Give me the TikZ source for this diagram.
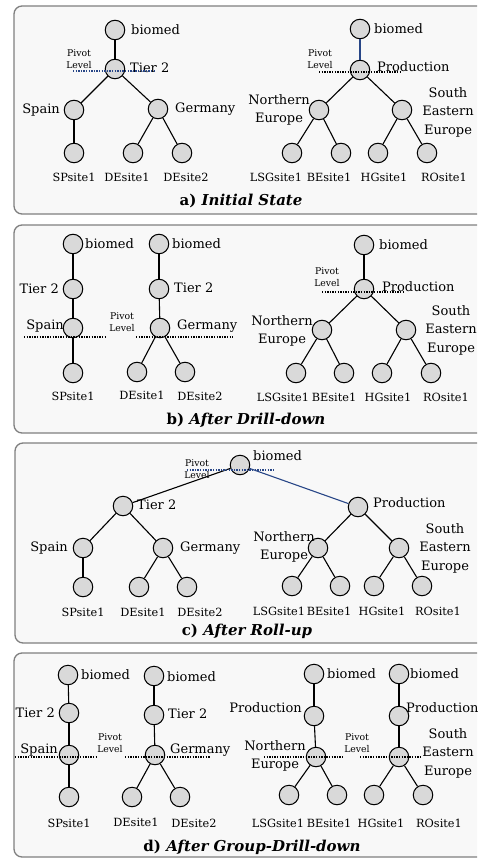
\documentclass[tikz,border=0pt]{standalone}
\usepackage{fontspec}
\setmainfont{DejaVu Serif}
\definecolor{panelbg}{RGB}{248,248,248}
\definecolor{panelbd}{RGB}{128,128,128}
\definecolor{nodefill}{RGB}{217,217,217}
\definecolor{pivblue}{RGB}{40,70,135}
\tikzset{
  nd/.style={circle,draw=black,line width=1pt,fill=nodefill,minimum size=19.5pt,inner sep=0pt},
  lab/.style={inner sep=0pt,font=\fontsize{13}{18.5}\selectfont},
  sitelab/.style={inner sep=0pt,font=\fontsize{11.3}{13}\selectfont},
  piv/.style={inner sep=0pt,align=center,font=\fontsize{9.3}{12.5}\selectfont},
  captxt/.style={inner sep=0pt,font=\fontsize{15}{17}\selectfont\bfseries},
  panel/.style={draw=panelbd,line width=1.3pt,fill=panelbg,rounded corners=8pt},
  edge/.style={line width=1.1pt,black},
  bedge/.style={line width=1.1pt,pivblue},
  pivline/.style={line width=1.1pt,dash pattern=on 1.3pt off 1.3pt},
}
\begin{document}
\begin{tikzpicture}[x=1pt,y=-1pt]
\useasboundingbox (0,0) rectangle (477,859);
\clip (0,0) rectangle (477,859);
\fill[white] (0,0) rectangle (477,859);
% ---------------- panels
\draw[panel] (14,6) rectangle (500,214);
\draw[panel] (14,225) rectangle (500,433);
\draw[panel] (15,443) rectangle (500,643);
\draw[panel] (14,653) rectangle (500,857);

% ================= a) Initial State
\node[nd] (aB) at (115,30) {};
\node[nd] (aT) at (115,69) {};
\node[nd] (aS) at (74,110) {};
\node[nd] (aG) at (158,109) {};
\node[nd] (aSP) at (74,153) {};
\node[nd] (aD1) at (133,153) {};
\node[nd] (aD2) at (182,153) {};
\draw[edge] (aB) -- (aT);
\draw[edge] (aT) -- (aS);
\draw[edge] (aT) -- (aG);
\draw[edge] (aS) -- (aSP);
\draw[edge] (aG) -- (aD1);
\draw[edge] (aG) -- (aD2);
\node[lab,anchor=west] (aBl) at (131,30) {biomed};
\node[lab,anchor=west] (aTl) at (130,68) {Tier 2};
\node[lab,anchor=east] (aSl) at (60,110) {Spain};
\node[lab,anchor=west] (aGl) at (175,109) {Germany};
\node[sitelab] (aSPl) at (74,177) {SPsite1};
\node[sitelab] (aD1l) at (127,177) {DEsite1};
\node[sitelab] (aD2l) at (186,177) {DEsite2};
\node[piv] (aPv1) at (79,59) {Pivot\\Level};
\coordinate (aL1) at (73,71);
\coordinate (aL2) at (155,71);
\draw[pivline,pivblue] (aL1) -- (aL2);

\node[nd] (aB2) at (360,29) {};
\node[nd] (aP) at (360,70) {};
\node[nd] (aN) at (319,110) {};
\node[nd] (aSE) at (402,110) {};
\node[nd] (aL) at (292,153) {};
\node[nd] (aBE) at (341,153) {};
\node[nd] (aH) at (378,153) {};
\node[nd] (aR) at (427,153) {};
\draw[bedge] (aB2) -- (aP);
\draw[edge] (aP) -- (aN);
\draw[edge] (aP) -- (aSE);
\draw[edge] (aN) -- (aL);
\draw[edge] (aN) -- (aBE);
\draw[edge] (aSE) -- (aH);
\draw[edge] (aSE) -- (aR);
\node[lab,anchor=west] (aB2l) at (374,29) {biomed};
\node[lab,anchor=west] (aPl) at (377,67) {Production};
\node[lab,align=center] (aNl) at (279,110) {Northern\\Europe};
\node[lab,align=center] (aSEl) at (448,112) {South\\Eastern\\Europe};
\node[sitelab] (aLl) at (276,177) {LSGsite1};
\node[sitelab] (aBEl) at (329,177) {BEsite1};
\node[sitelab] (aHl) at (384,177) {HGsite1};
\node[sitelab] (aRl) at (444,177) {ROsite1};
\node[piv] (aPv2) at (320,59) {Pivot\\Level};
\coordinate (aL3) at (319,72);
\coordinate (aL4) at (400,72);
\draw[pivline] (aL3) -- (aL4);
\node[captxt] (aCap) at (241,201) {a) \itshape Initial State};

% ================= b) After Drill-down
\node[nd] (bB1) at (73,244) {};
\node[nd] (bT1) at (73,289) {};
\node[nd] (bS) at (73,328) {};
\node[nd] (bSP) at (73,373) {};
\draw[edge] (bB1) -- (bT1);
\draw[edge] (bT1) -- (bS);
\draw[edge] (bS) -- (bSP);
\node[lab,anchor=west] (bB1l) at (85,244) {biomed};
\node[lab,anchor=east] (bT1l) at (59,289) {Tier 2};
\node[lab,anchor=east] (bSl) at (64,326) {Spain};
\node[sitelab] (bSPl) at (73,396) {SPsite1};

\node[nd] (bB2) at (159,244) {};
\node[nd] (bT2) at (159,289) {};
\node[nd] (bG) at (160,328) {};
\node[nd] (bD1) at (137,372) {};
\node[nd] (bD2) at (185,372) {};
\draw[edge] (bB2) -- (bT2);
\draw[edge] (bT2) -- (bG);
\draw[edge] (bG) -- (bD1);
\draw[edge] (bG) -- (bD2);
\node[lab,anchor=west] (bB2l) at (172,244) {biomed};
\node[lab,anchor=west] (bT2l) at (174,288) {Tier 2};
\node[lab,anchor=west] (bGl) at (177,326) {Germany};
\node[sitelab] (bD1l) at (142,395) {DEsite1};
\node[sitelab] (bD2l) at (200,396) {DEsite2};
\node[piv] (bPv1) at (122,322) {Pivot\\Level};
\coordinate (bL1) at (24,337);
\coordinate (bL2) at (107,337);
\coordinate (bL3) at (136,337);
\coordinate (bL4) at (233,337);
\draw[pivline] (bL1) -- (bL2);
\draw[pivline] (bL3) -- (bL4);

\node[nd] (bB3) at (364,245) {};
\node[nd] (bP) at (364,289) {};
\node[nd] (bN) at (322,330) {};
\node[nd] (bSE) at (406,330) {};
\node[nd] (bL) at (296,373) {};
\node[nd] (bBE) at (344,373) {};
\node[nd] (bH) at (382,373) {};
\node[nd] (bR) at (431,373) {};
\draw[edge] (bB3) -- (bP);
\draw[edge] (bP) -- (bN);
\draw[edge] (bP) -- (bSE);
\draw[edge] (bN) -- (bL);
\draw[edge] (bN) -- (bBE);
\draw[edge] (bSE) -- (bH);
\draw[edge] (bSE) -- (bR);
\node[lab,anchor=west] (bB3l) at (379,245) {biomed};
\node[lab,anchor=west] (bPl) at (382,287) {Production};
\node[lab,align=center] (bNl) at (282,331) {Northern\\Europe};
\node[lab,align=center] (bSEl) at (451,330) {South\\Eastern\\Europe};
\node[sitelab] (bLl) at (283,397) {LSGsite1};
\node[sitelab] (bBEl) at (334,397) {BEsite1};
\node[sitelab] (bHl) at (388,397) {HGsite1};
\node[sitelab] (bRl) at (446,397) {ROsite1};
\node[piv] (bPv2) at (327,277) {Pivot\\Level};
\coordinate (bL5) at (322,292);
\coordinate (bL6) at (404,292);
\draw[pivline] (bL5) -- (bL6);
\node[captxt] (bCap) at (246,420) {b) \itshape After Drill-down};

% ================= c) After Roll-up
\node[nd] (cB) at (240,465) {};
\node[nd] (cT) at (123,506) {};
\node[nd] (cS) at (83,548) {};
\node[nd] (cG) at (163,548) {};
\node[nd] (cSP) at (83,587) {};
\node[nd] (cD1) at (139,587) {};
\node[nd] (cD2) at (187,587) {};
\node[nd] (cP) at (358,507) {};
\node[nd] (cN) at (318,548) {};
\node[nd] (cSE) at (399,548) {};
\node[nd] (cL) at (292,586) {};
\node[nd] (cBE) at (340,586) {};
\node[nd] (cH) at (374,586) {};
\node[nd] (cR) at (422,586) {};
\draw[edge] (cB) -- (cT);
\draw[bedge] (cB) -- (cP);
\draw[edge] (cT) -- (cS);
\draw[edge] (cT) -- (cG);
\draw[edge] (cS) -- (cSP);
\draw[edge] (cG) -- (cD1);
\draw[edge] (cG) -- (cD2);
\draw[edge] (cP) -- (cN);
\draw[edge] (cP) -- (cSE);
\draw[edge] (cN) -- (cL);
\draw[edge] (cN) -- (cBE);
\draw[edge] (cSE) -- (cH);
\draw[edge] (cSE) -- (cR);
\node[lab,anchor=west] (cBl) at (253,456) {biomed};
\node[lab,anchor=west] (cTl) at (137,505) {Tier 2};
\node[lab,anchor=east] (cSl) at (68,548) {Spain};
\node[lab,anchor=west] (cGl) at (180,548) {Germany};
\node[sitelab] (cSPl) at (83,612) {SPsite1};
\node[sitelab] (cD1l) at (143,612) {DEsite1};
\node[sitelab] (cD2l) at (200,612) {DEsite2};
\node[lab,anchor=west] (cPl) at (373,503) {Production};
\node[lab,align=center] (cNl) at (284,547) {Northern\\Europe};
\node[lab,align=center] (cSEl) at (445,548) {South\\Eastern\\Europe};
\node[sitelab] (cLl) at (279,611) {LSGsite1};
\node[sitelab] (cBEl) at (329,611) {BEsite1};
\node[sitelab] (cHl) at (382,611) {HGsite1};
\node[sitelab] (cRl) at (438,611) {ROsite1};
\node[piv] (cPv) at (197,469) {Pivot\\Level};
\coordinate (cL1) at (187,470);
\coordinate (cL2) at (275,470);
\draw[pivline,pivblue] (cL1) -- (cL2);
\node[captxt] (cCap) at (247,631) {c) \itshape After Roll-up};

% ================= d) After Group-Drill-down
\node[nd] (dB1) at (68,675) {};
\node[nd] (dT1) at (69,713) {};
\node[nd] (dS) at (69,755) {};
\node[nd] (dSP) at (69,797) {};
\draw[edge] (dB1) -- (dT1);
\draw[edge] (dT1) -- (dS);
\draw[edge] (dS) -- (dSP);
\node[lab,anchor=west] (dB1l) at (81,675) {biomed};
\node[lab,anchor=east] (dT1l) at (55,713) {Tier 2};
\node[lab,anchor=east] (dSl) at (58,750) {Spain};
\node[sitelab] (dSPl) at (69,823) {SPsite1};

\node[nd] (dB2) at (154,676) {};
\node[nd] (dT2) at (154,715) {};
\node[nd] (dG) at (155,755) {};
\node[nd] (dD1) at (132,797) {};
\node[nd] (dD2) at (180,797) {};
\draw[edge] (dB2) -- (dT2);
\draw[edge] (dT2) -- (dG);
\draw[edge] (dG) -- (dD1);
\draw[edge] (dG) -- (dD2);
\node[lab,anchor=west] (dB2l) at (167,677) {biomed};
\node[lab,anchor=west] (dT2l) at (168,714) {Tier 2};
\node[lab,anchor=west] (dGl) at (170,750) {Germany};
\node[sitelab] (dD1l) at (136,822) {DEsite1};
\node[sitelab] (dD2l) at (194,823) {DEsite2};
\node[piv] (dPv1) at (110,743) {Pivot\\Level};
\coordinate (dL1) at (15,757);
\coordinate (dL2) at (98,757);
\coordinate (dL3) at (125,757);
\coordinate (dL4) at (210,757);
\draw[pivline] (dL1) -- (dL2);
\draw[pivline] (dL3) -- (dL4);

\node[nd] (dB3) at (314,674) {};
\node[nd] (dP3) at (314,716) {};
\node[nd] (dN) at (316,757) {};
\node[nd] (dL) at (289,795) {};
\node[nd] (dBE) at (337,795) {};
\draw[edge] (dB3) -- (dP3);
\draw[edge] (dP3) -- (dN);
\draw[edge] (dN) -- (dL);
\draw[edge] (dN) -- (dBE);
\node[lab,anchor=west] (dB3l) at (327,674) {biomed};
\node[lab,anchor=east] (dP3l) at (302,708) {Production};
\node[lab,align=center] (dNl) at (275,756) {Northern\\Europe};
\node[sitelab] (dLl) at (278,823) {LSGsite1};
\node[sitelab] (dBEl) at (329,823) {BEsite1};

\node[nd] (dB4) at (399,674) {};
\node[nd] (dP4) at (399,716) {};
\node[nd] (dSE) at (399,757) {};
\node[nd] (dH) at (374,795) {};
\node[nd] (dR) at (423,795) {};
\draw[edge] (dB4) -- (dP4);
\draw[edge] (dP4) -- (dSE);
\draw[edge] (dSE) -- (dH);
\draw[edge] (dSE) -- (dR);
\node[lab,anchor=west] (dB4l) at (410,674) {biomed};
\node[lab,anchor=west] (dP4l) at (406,708) {Production};
\node[lab,align=center] (dSEl) at (448,753) {South\\Eastern\\Europe};
\node[sitelab] (dHl) at (381,823) {HGsite1};
\node[sitelab] (dRl) at (439,823) {ROsite1};
\node[piv] (dPv2) at (357,743) {Pivot\\Level};
\coordinate (dL5) at (264,757);
\coordinate (dL6) at (344,757);
\coordinate (dL7) at (360,757);
\coordinate (dL8) at (422,757);
\draw[pivline] (dL5) -- (dL6);
\draw[pivline] (dL7) -- (dL8);
\node[captxt] (dCap) at (252,847) {d) \itshape After Group-Drill-down};
\end{tikzpicture}
\end{document}
